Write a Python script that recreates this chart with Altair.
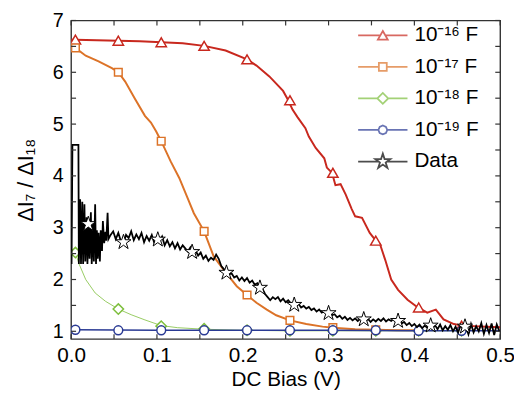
import altair as alt
import pandas as pd

FONT = "Liberation Sans"
W, H = 435, 323

labels = ["10⁻¹⁶ F", "10⁻¹⁷ F", "10⁻¹⁸ F", "10⁻¹⁹ F", "Data"]
colors = ["#C8281E", "#DC7328", "#7DBE3C", "#2A3A94", "#000000"]

# model curves (lines)
red_x = [0.0, 0.005, 0.03, 0.055, 0.08, 0.105, 0.13, 0.155, 0.18, 0.205, 0.216, 0.231, 0.247, 0.253,
         0.258, 0.264, 0.273, 0.277, 0.285, 0.295, 0.298, 0.304, 0.308, 0.314, 0.320, 0.327, 0.331,
         0.339, 0.348, 0.355, 0.360, 0.366, 0.373, 0.381, 0.392, 0.404, 0.415, 0.425, 0.434, 0.446,
         0.456, 0.469, 0.484, 0.5]
red_y = [6.63, 6.63, 6.62, 6.61, 6.60, 6.58, 6.56, 6.51, 6.42, 6.25, 6.13, 5.92, 5.64, 5.46,
         5.28, 5.13, 4.92, 4.76, 4.54, 4.34, 4.16, 4.06, 3.82, 3.84, 3.64, 3.36, 3.22,
         3.19, 2.90, 2.75, 2.68, 2.38, 2.00, 1.80, 1.61, 1.46, 1.36, 1.42, 1.23, 1.14,
         1.11, 1.10, 1.09, 1.08]
orange_x = [0.003, 0.005, 0.017, 0.032, 0.0475, 0.055, 0.063, 0.074, 0.086, 0.093, 0.099, 0.105,
            0.116, 0.126, 0.136, 0.143, 0.155, 0.166, 0.178, 0.193, 0.205, 0.216, 0.228, 0.239,
            0.255, 0.274, 0.293, 0.305, 0.331, 0.355, 0.38, 0.405]
orange_y = [6.48, 6.47, 6.32, 6.21, 6.08, 6.00, 5.82, 5.50, 5.16, 5.03, 4.86, 4.67,
            4.28, 3.96, 3.56, 3.28, 2.93, 2.45, 2.18, 1.87, 1.70, 1.55, 1.42, 1.31,
            1.21, 1.14, 1.09, 1.07, 1.04, 1.03, 1.02, 1.02]
green_x = [0.003, 0.005, 0.009, 0.017, 0.028, 0.040, 0.055, 0.070, 0.086, 0.105, 0.124, 0.155,
           0.2, 0.25, 0.3, 0.35, 0.4, 0.455]
green_y = [2.56, 2.52, 2.31, 2.00, 1.74, 1.58, 1.43, 1.32, 1.22, 1.11, 1.07, 1.04,
           1.02, 1.01, 1.01, 1.01, 1.01, 1.01]
blue_x = [0.002, 0.005, 0.1, 0.2, 0.3, 0.4, 0.455, 0.5]
blue_y = [1.03, 1.03, 1.02, 1.02, 1.02, 1.01, 1.01, 1.01]

# model markers
mk_x = [0.005, 0.055, 0.105, 0.155, 0.205, 0.255, 0.305, 0.355, 0.405, 0.455]
red_m = [6.63, 6.61, 6.58, 6.51, 6.25, 5.46, 4.06, 2.75, 1.46, 1.11]
orange_m = [6.47, 6.00, 4.67, 2.93, 1.70, 1.21, 1.07, 1.03]
green_m = [2.52, 1.43, 1.10, 1.05, 1.02, 1.01, 1.01, 1.01, 1.01, 1.01]
blue_m = [1.03, 1.02, 1.02, 1.02, 1.02, 1.02, 1.02, 1.02, 1.01, 1.01]

# measured data trace
data_x_head = [0.0005, 0.0015, 0.0085, 0.0090, 0.0105, 0.0115, 0.0130, 0.0140, 0.0155, 0.0165,
               0.0180, 0.0190, 0.0205, 0.0215, 0.0230, 0.0240, 0.0255, 0.0265, 0.0280, 0.0290,
               0.0300, 0.0310, 0.0320, 0.0335, 0.0345, 0.0360, 0.0370, 0.0385, 0.0400, 0.0410,
               0.0425, 0.0435]
data_y_head = [2.30, 4.60, 4.60, 2.30, 3.55, 2.30, 3.50, 2.30, 3.45, 2.35,
               3.20, 2.30, 3.05, 2.40, 3.30, 2.30, 3.10, 2.35, 3.45, 2.30,
               2.95, 2.40, 2.90, 2.35, 2.95, 2.55, 3.13, 2.70, 2.92, 2.75,
               3.29, 2.78]
data_y_body = [
    2.86, 2.93, 2.78, 2.90, 2.74, 2.70, 2.86, 2.80, 2.93, 2.76,
    2.87, 2.78, 2.90, 2.72, 2.84, 2.75, 2.86, 2.70, 2.80, 2.74,
    2.83, 2.66, 2.76, 2.64, 2.72, 2.60, 2.70, 2.58, 2.66, 2.60,
    2.54, 2.62, 2.50, 2.56, 2.46, 2.52, 2.40, 2.46, 2.36, 2.42,
    2.38, 2.48, 2.40, 2.26, 2.20, 2.14, 2.10, 2.12, 2.04, 2.07,
    1.98, 2.04, 1.97, 2.03, 1.94, 1.98, 1.90, 1.93, 1.84, 1.82,
    1.72, 1.66, 1.60, 1.66, 1.62, 1.66, 1.58, 1.63, 1.56, 1.60,
    1.54, 1.52, 1.49, 1.53, 1.46, 1.49, 1.44, 1.47, 1.41, 1.44,
    1.38, 1.42, 1.36, 1.39, 1.34, 1.35, 1.31, 1.33, 1.27, 1.30,
    1.24, 1.28, 1.22, 1.26, 1.21, 1.25, 1.20, 1.24, 1.22, 1.19,
    1.24, 1.18, 1.23, 1.19, 1.24, 1.20, 1.25, 1.19, 1.23, 1.20,
    1.24, 1.18, 1.21, 1.15, 1.18, 1.12, 1.16, 1.10, 1.14, 1.08,
    1.13, 1.06, 1.11, 1.07, 1.13, 1.05, 1.12, 1.04, 1.13, 1.02,
    1.10, 1.03, 1.12, 1.00, 1.09, 0.98, 1.12, 1.03, 1.09, 0.94,
    1.14, 0.98, 1.10, 1.00, 1.16, 0.95, 1.12, 0.97, 1.15, 0.93,
    1.13, 1.00]
data_x_body = [round(0.046 + 0.003 * i, 4) for i in range(len(data_y_body))]

star_x = [0.02, 0.061, 0.101, 0.141, 0.181, 0.220, 0.260, 0.300, 0.341, 0.381, 0.419, 0.459]
star_y = [3.07, 2.72, 2.77, 2.53, 2.13, 1.84, 1.51, 1.35, 1.23, 1.20, 1.11, 1.09]

x_ticks = [0.0, 0.05, 0.1, 0.15, 0.2, 0.25, 0.3, 0.35, 0.4, 0.45, 0.5]
y_ticks = [1.0, 1.5, 2.0, 2.5, 3.0, 3.5, 4.0, 4.5, 5.0, 5.5, 6.0, 6.5, 7.0]
x_labels = [0.0, 0.1, 0.2, 0.3, 0.4, 0.5]
y_labels = [1, 2, 3, 4, 5, 6, 7]

STAR = ("M0,-1L0.225,-0.309L0.951,-0.309L0.363,0.118L0.588,0.809L0,0.382"
        "L-0.588,0.809L-0.363,0.118L-0.951,-0.309L-0.225,-0.309Z")
legend_shapes = [
    "M-1,0H-0.1M0.1,0H1M0,-0.173L0.2,0.173L-0.2,0.173Z",
    "M-1,0H-0.16M0.16,0H1M-0.16,-0.16H0.16V0.16H-0.16Z",
    "M-1,0H-0.22M0.22,0H1M-0.22,0L0,-0.22L0.22,0L0,0.22Z",
    "M-1,0H-0.18M0.18,0H1M-0.18,0L-0.127,-0.127L0,-0.18L0.127,-0.127L0.18,0L0.127,0.127"
    "L0,0.18L-0.127,0.127Z",
    "M-1,0H-0.17M0.17,0H1M0,-0.32L0.072,-0.099L0.304,-0.099L0.116,0.038L0.188,0.259"
    "L0,0.122L-0.188,0.259L-0.116,0.038L-0.304,-0.099L-0.072,-0.099Z",
]

xscale = alt.Scale(domain=[0, 0.5], nice=False, zero=False)
yscale = alt.Scale(domain=[0.85, 7], nice=False, zero=False)
cscale = alt.Scale(domain=labels, range=colors)

xaxis = alt.Axis(values=x_labels, format=".1f", title="DC Bias (V)", ticks=False, domain=False,
                 grid=False, labelFont=FONT, labelFontSize=21, labelColor="black", labelPadding=6,
                 titleFont=FONT, titleFontSize=21, titleColor="black", titleFontWeight="normal",
                 titlePadding=3, labelFlush=False)
yaxis = alt.Axis(values=y_labels, format="d", title="ΔI₇ / ΔI₁₈", ticks=False, domain=False,
                 grid=False, labelFont=FONT, labelFontSize=20, labelColor="black", labelPadding=8,
                 titleFont=FONT, titleFontSize=22, titleColor="black", titleFontWeight="normal",
                 titlePadding=15, labelFlush=False)
legend = alt.Legend(title=None, orient="none", legendX=290, legendY=-1, symbolSize=2500,
                    symbolStrokeWidth=1.8, labelFont=FONT, labelFontSize=21, labelColor="black",
                    labelOffset=6, rowPadding=0, clipHeight=32, padding=0, labelLimit=300)

X = alt.X("x:Q", scale=xscale, axis=xaxis, title="DC Bias (V)")
Y = alt.Y("y:Q", scale=yscale, axis=yaxis, title="ΔI₇ / ΔI₁₈")
C = alt.Color("series:N", scale=cscale, legend=legend)


def df(xs, ys, name):
    return pd.DataFrame({"x": xs, "y": ys, "series": name, "order": list(range(len(xs)))})


def line_layer(xs, ys, name, width):
    return alt.Chart(df(xs, ys, name)).mark_line(strokeWidth=width, clip=True).encode(
        x=X, y=Y, color=C, order="order:Q")


def marker_layer(xs, ys, name, shape, size, color):
    return alt.Chart(df(xs, ys, name)).mark_point(
        shape=shape, size=size, filled=True, fill="white", stroke=color, strokeWidth=1.5,
        opacity=1, clip=True
    ).encode(x=X, y=Y)


layers = [
    line_layer(red_x, red_y, labels[0], 2.0),
    marker_layer(mk_x, red_m, labels[0], "triangle-up", 110, colors[0]),
    line_layer(orange_x, orange_y, labels[1], 2.0),
    marker_layer(mk_x[:len(orange_m)], orange_m, labels[1], "square", 60, colors[1]),
    line_layer(green_x, green_y, labels[2], 0.8),
    marker_layer(mk_x, green_m, labels[2], "diamond", 110, colors[2]),
    line_layer(blue_x, blue_y, labels[3], 1.5),
    marker_layer(mk_x, blue_m, labels[3], "circle", 80, colors[3]),
    line_layer(data_x_head + data_x_body, data_y_head + data_y_body, labels[4], 1.8),
    alt.Chart(df(star_x, star_y, labels[4])).mark_point(
        shape=STAR, size=256, filled=True, fill="white", stroke="black", strokeWidth=1,
        opacity=1, clip=True
    ).encode(x=X, y=Y),
]

# inward ticks on all four sides
tick_style = dict(color="#333333", strokeWidth=1.2)
xt = pd.DataFrame({"x": x_ticks})
yt = pd.DataFrame({"y": y_ticks})
layers += [
    alt.Chart(xt).mark_rule(**tick_style).encode(x=X, y=alt.value(H), y2=alt.value(H - 5)),
    alt.Chart(xt).mark_rule(**tick_style).encode(x=X, y=alt.value(0), y2=alt.value(5)),
    alt.Chart(yt).mark_rule(**tick_style).encode(y=Y, x=alt.value(0), x2=alt.value(5)),
    alt.Chart(yt).mark_rule(**tick_style).encode(y=Y, x=alt.value(W), x2=alt.value(W - 5)),
]

# legend carrier (points lie outside the plotted domain and are clipped)
legend_df = pd.DataFrame({"series": labels, "x": [-1.0] * 5, "y": [-1.0] * 5})
layers.append(
    alt.Chart(legend_df).mark_point(filled=False, clip=True, size=10).encode(
        x=X, y=Y, color=C,
        shape=alt.Shape("series:N", scale=alt.Scale(domain=labels, range=legend_shapes),
                        legend=legend),
    )
)

chart = alt.layer(*layers).properties(
    width=W, height=H, autosize="none",
    padding={"left": 64, "top": 10, "right": 14, "bottom": 51},
    background="white",
).configure_view(stroke="#333333", strokeWidth=1.4)

chart.save("out.html", embed_options={"renderer": "svg", "actions": False})
